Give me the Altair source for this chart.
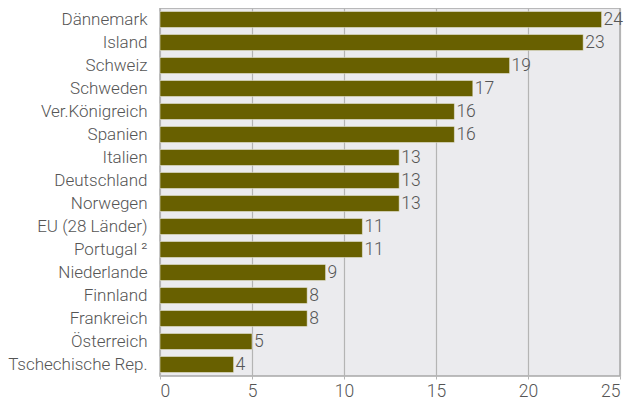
import altair as alt
import pandas as pd

countries = ["Dännemark", "Island", "Schweiz", "Schweden", "Ver.Königreich", "Spanien",
             "Italien", "Deutschland", "Norwegen", "EU (28 Länder)", "Portugal ²",
             "Niederlande", "Finnland", "Frankreich", "Österreich", "Tschechische Rep."]
values = [24, 23, 19, 17, 16, 16, 13, 13, 13, 11, 11, 9, 8, 8, 5, 4]

df = pd.DataFrame({"land": countries, "wert": values})

FONT = "Roboto"
TXT = "#555555"
FS = 17.5

base = alt.Chart(df)

bars = base.mark_bar(color="#686000", stroke="#f4f4f0", strokeWidth=0.5).encode(
    x=alt.X("wert:Q", scale=alt.Scale(domain=[0, 25], nice=False),
            axis=alt.Axis(values=[0, 5, 10, 15, 20, 25], title=None, grid=True,
                          gridColor="#b4b4b4", gridWidth=1.2, domain=False,
                          tickColor="#b4b4b4", tickSize=3, labelPadding=3,
                          labelFont=FONT, labelFontSize=FS, labelFontWeight=300,
                          labelColor=TXT)),
    y=alt.Y("land:N", sort=None, scale=alt.Scale(paddingInner=0.3, paddingOuter=0.15),
            axis=alt.Axis(title=None, ticks=False, domain=False, labelPadding=13,
                          labelFont=FONT, labelFontSize=17, labelFontWeight=300,
                          labelColor=TXT, labelLimit=300)),
)

labels = base.mark_text(align="left", baseline="middle", dx=2, font=FONT, fontSize=FS,
                        fontWeight=300, color=TXT).encode(
    x="wert:Q",
    y=alt.Y("land:N", sort=None),
    text="wert:Q",
)

chart = (bars + labels).properties(
    width=460, height=368,
    autosize=alt.AutoSizeParams(type="none"),
    padding={"left": 152, "top": 0, "right": 5, "bottom": 27},
).configure_view(fill="#ebebee", stroke="#a8a8a8", strokeWidth=1.5)

chart.save("out.html", embed_options={"renderer": "svg", "actions": False})
